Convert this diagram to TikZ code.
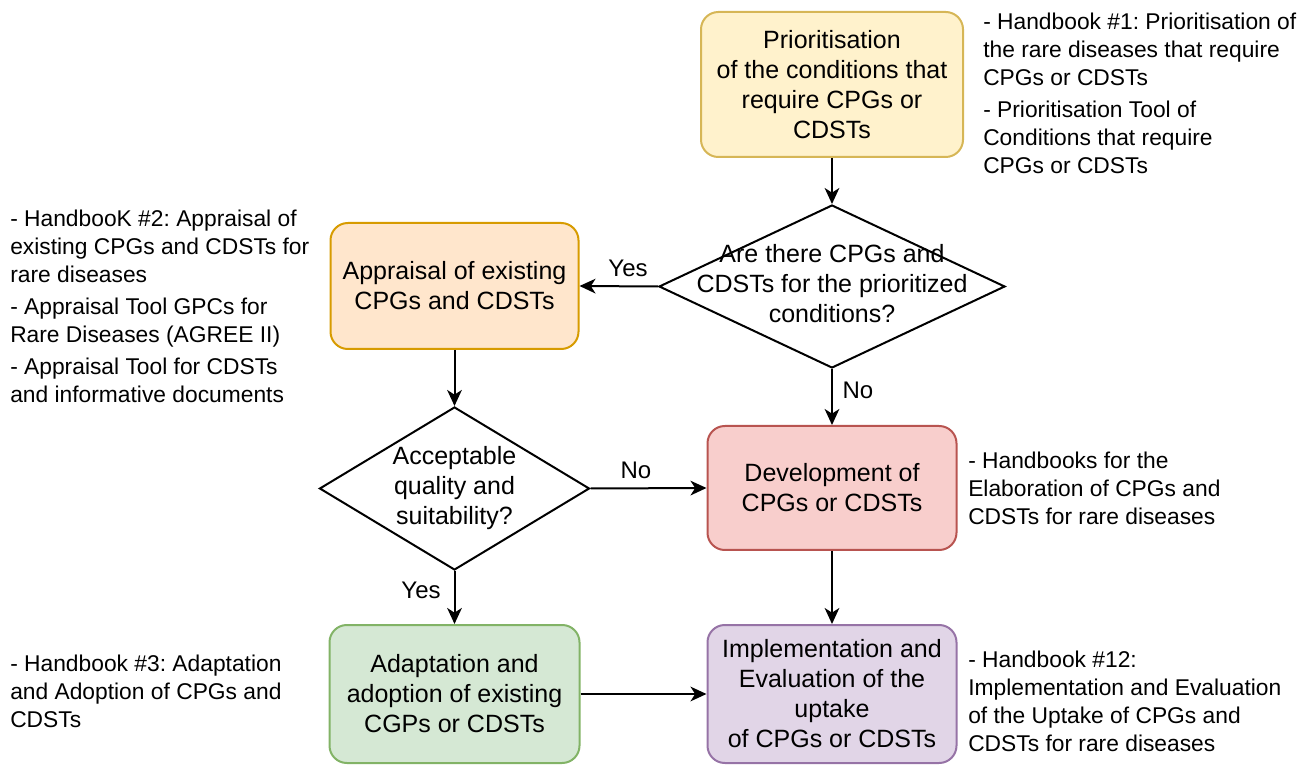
\documentclass[tikz,border=0pt]{standalone}
\usepackage{fontspec}
\setmainfont{Liberation Sans}
\usetikzlibrary{shapes.geometric,arrows.meta}
\definecolor{prioF}{HTML}{FFF2CC}\definecolor{prioD}{HTML}{D6B656}
\definecolor{apprF}{HTML}{FFE6CC}\definecolor{apprD}{HTML}{D79B00}
\definecolor{devF}{HTML}{F8CECC}\definecolor{devD}{HTML}{B85450}
\definecolor{adaF}{HTML}{D5E8D4}\definecolor{adaD}{HTML}{82B366}
\definecolor{impF}{HTML}{E1D5E7}\definecolor{impD}{HTML}{9673A6}
\frenchspacing
\begin{document}
\begin{tikzpicture}[x=0.75pt,y=-0.75pt,
 box/.style={draw, line width=1.5pt, rounded corners=13pt, align=center, font=\fontsize{18.75}{22.5}\selectfont, inner sep=0pt},
 dia/.style={draw, line width=1.5pt, diamond, inner sep=0pt, fill=white},
 dtxt/.style={align=center, font=\fontsize{18.75}{22.5}\selectfont, inner sep=0pt},
 note/.style={align=left, anchor=north west, inner sep=0pt, font=\fontsize{17.1}{21}\selectfont},
 lab/.style={font=\fontsize{18}{21}\selectfont, inner sep=0pt},
 arr/.style={line width=1.5pt, -{Stealth[length=12pt,width=11pt,inset=3.5pt]}}
]
\useasboundingbox (0,0) rectangle (1311,766);

\node[box, fill=prioF, draw=prioD, minimum width=196.5pt, minimum height=108.75pt] (prio) at (832,84.5)
  {Prioritisation\\of the conditions that\\require CPGs or\\CDSTs};
\node[dia, minimum width=259.5pt, minimum height=122.25pt,
  label={[dtxt, yshift=2.25pt]center:{Are there CPGs and\\CDSTs for the prioritized\\conditions?}}] (d1) at (832,286.5) {};
\node[box, fill=apprF, draw=apprD, minimum width=186pt, minimum height=94.5pt] (appr) at (454.5,286)
  {Appraisal of existing\\CPGs and CDSTs};
\node[dia, minimum width=202.5pt, minimum height=122.25pt,
  label={[dtxt]center:{Acceptable\\quality and\\suitability?}}] (d2) at (454.5,488.5) {};
\node[box, fill=devF, draw=devD, minimum width=186.75pt, minimum height=93pt] (dev) at (832,488)
  {Development of\\CPGs or CDSTs};
\node[box, fill=adaF, draw=adaD, minimum width=187.5pt, minimum height=103.5pt] (ada) at (454.5,694)
  {Adaptation and\\adoption of existing\\CGPs or CDSTs};
\node[box, fill=impF, draw=impD, minimum width=186.75pt, minimum height=103.5pt] (imp) at (832,694)
  {Implementation and\\Evaluation of the\\uptake\\of CPGs or CDSTs};

\draw[arr] (prio) -- (d1);
\draw[arr] (d1.west) -- (appr.east) node[lab] at (628,268) {Yes};
\draw[arr] (d1.south) -- (dev.north) node[lab] at (858,390) {No};
\draw[arr] (appr) -- (d2);
\draw[arr] (d2.east) -- (dev.west) node[lab] at (636,470) {No};
\draw[arr] (d2.south) -- (ada.north) node[lab] at (421,590) {Yes};
\draw[arr] (dev) -- (imp);
\draw[arr] (ada) -- (imp);

\node[note] (n1) at (983,13) {- Handbook \#1: Prioritisation of\\the rare diseases that require\\CPGs or CDSTs\\[3pt]- Prioritisation Tool of\\Conditions that require\\CPGs or CDSTs};
\node[note] (n2) at (10,210) {- HandbooK \#2: Appraisal of\\existing CPGs and CDSTs for\\rare diseases\\[3pt]- Appraisal Tool GPCs for\\Rare Diseases (AGREE II)\\[3pt]- Appraisal Tool for CDSTs\\and informative documents};
\node[note] (n3) at (968,452) {- Handbooks for the\\Elaboration of CPGs and\\CDSTs for rare diseases};
\node[note] (n4) at (10,655) {- Handbook \#3: Adaptation\\and Adoption of CPGs and\\CDSTs};
\node[note] (n5) at (968,651) {- Handbook \#12:\\Implementation and Evaluation\\of the Uptake of CPGs and\\CDSTs for rare diseases};
\end{tikzpicture}
\end{document}
